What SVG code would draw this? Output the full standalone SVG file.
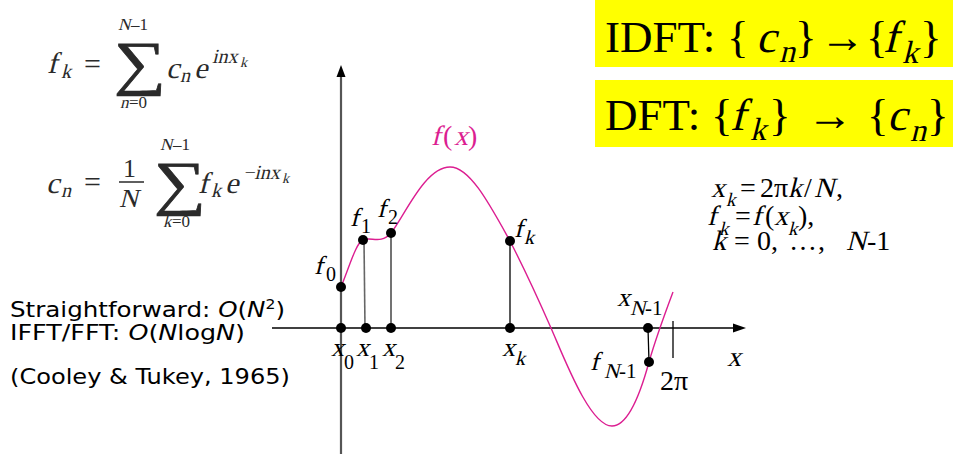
<svg xmlns="http://www.w3.org/2000/svg" width="953" height="454" viewBox="0 0 953 454">
<style>
.m{font-family:"Liberation Serif","Times New Roman",serif;}
.eq{fill:#2a2a2a}
.lab{font-size:26px;fill:#000}
.sub{font-size:20px}
.v{font-family:"DejaVu Sans",Verdana,sans-serif;font-size:22px;fill:#000}
.dot{fill:#000}
.big{font-size:45px;fill:#000}
.bsub{font-size:32px}
.rt{font-size:28px;fill:#000}
.rs{font-size:19px}
.curve{fill:none;stroke:#DC1E91;stroke-width:1.4}
</style>
<rect width="953" height="454" fill="#fff"/>

<g id="formula1" class="m eq">
  <text transform="translate(47,73) skewX(-14)" font-size="30">f</text>
  <text transform="translate(61,78) skewX(-14)" font-size="20">k</text>
  <text x="84" y="74" font-size="30">=</text>
  <text transform="translate(114,83) scale(1.22,1)" font-size="60" stroke="#2a2a2a" stroke-width="0.7">∑</text>
  <text transform="translate(118,30) skewX(-14)" font-size="17">N</text>
  <text x="131" y="30" font-size="17">–1</text>
  <text transform="translate(120,108) skewX(-14)" font-size="17">n</text>
  <text x="129" y="108" font-size="17">=0</text>
  <text transform="translate(166,78) skewX(-14)" font-size="30">c</text>
  <text transform="translate(180,82) skewX(-14)" font-size="20">n</text>
  <text transform="translate(194,78) skewX(-14)" font-size="30">e</text>
  <text transform="translate(212,63) skewX(-14)" font-size="20">inx</text>
  <text transform="translate(240,67) skewX(-14)" font-size="14">k</text>
</g>

<g id="formula2" class="m eq">
  <text transform="translate(46,193) skewX(-14)" font-size="30">c</text>
  <text transform="translate(61,197) skewX(-14)" font-size="20">n</text>
  <text x="84" y="192" font-size="30">=</text>
  <text x="123" y="177" font-size="26">1</text>
  <line x1="119" y1="182" x2="144" y2="182" stroke="#2a2a2a" stroke-width="1.5"/>
  <text transform="translate(119,207) skewX(-14)" font-size="26">N</text>
  <text transform="translate(154,203) scale(1.22,1)" font-size="60" stroke="#2a2a2a" stroke-width="0.7">∑</text>
  <text transform="translate(160,150) skewX(-14)" font-size="17">N</text>
  <text x="173" y="150" font-size="17">–1</text>
  <text transform="translate(163,227) skewX(-14)" font-size="17">k</text>
  <text x="172" y="227" font-size="17">=0</text>
  <text transform="translate(198,193) skewX(-14)" font-size="30">f</text>
  <text transform="translate(211,197) skewX(-14)" font-size="20">k</text>
  <text transform="translate(225,193) skewX(-14)" font-size="30">e</text>
  <text transform="translate(243,179) skewX(-14)" font-size="20">−inx</text>
  <text transform="translate(282,183) skewX(-14)" font-size="14">k</text>
</g>

<g id="idft" class="m big">
  <rect x="595" y="0" width="358" height="67" fill="#FFFF00"/>
  <text x="605" y="52">IDFT:</text>
  <text x="727" y="52">{</text>
  <text transform="translate(756,52) skewX(-14)">c</text>
  <text transform="translate(779,62) skewX(-14)" class="bsub">n</text>
  <text x="795" y="52">}</text>
  <text x="820" y="52" textLength="45" lengthAdjust="spacingAndGlyphs">→</text>
  <text x="866" y="52">{</text>
  <text transform="translate(883,52) skewX(-14)">f</text>
  <text transform="translate(902,63) skewX(-14)" class="bsub">k</text>
  <text x="920" y="52">}</text>
</g>

<g id="dft" class="m big">
  <rect x="595" y="80" width="358" height="67" fill="#FFFF00"/>
  <text x="605" y="130">DFT:</text>
  <text x="711" y="130">{</text>
  <text transform="translate(730,130) skewX(-14)">f</text>
  <text transform="translate(750,140) skewX(-14)" class="bsub">k</text>
  <text x="769" y="130">}</text>
  <text x="807" y="130" textLength="46" lengthAdjust="spacingAndGlyphs">→</text>
  <text x="867" y="130">{</text>
  <text transform="translate(887,130) skewX(-14)">c</text>
  <text transform="translate(910,141) skewX(-14)" class="bsub">n</text>
  <text x="927" y="130">}</text>
</g>

<g id="definitions" class="m rt">
  <text transform="translate(711,197) skewX(-14)">x</text>
  <text transform="translate(726,206) skewX(-14)" class="rs">k</text>
  <text x="740" y="197">=</text>
  <text x="760" y="197">2π</text>
  <text transform="translate(788,197) skewX(-14)">k</text>
  <text x="804" y="197">/</text>
  <text transform="translate(814,197) skewX(-14)">N</text>
  <text x="836" y="197">,</text>

  <text transform="translate(707,225) skewX(-14)">f</text>
  <text transform="translate(719,235) skewX(-14)" class="rs">k</text>
  <text x="735" y="225">=</text>
  <text transform="translate(752,225) skewX(-14)">f</text>
  <text x="765" y="225">(</text>
  <text transform="translate(774,225) skewX(-14)">x</text>
  <text transform="translate(788,235) skewX(-14)" class="rs">k</text>
  <text x="798" y="225">),</text>

  <text transform="translate(712,250) skewX(-14)">k</text>
  <text x="734" y="250">=</text>
  <text x="757" y="250">0,</text>
  <text x="789" y="250">…</text>
  <text x="818" y="250">,</text>
  <text transform="translate(846,250) skewX(-14)">N</text>
  <text x="867" y="250">-1</text>
</g>

<g id="complexity" class="v">
  <text x="10" y="317" textLength="275" lengthAdjust="spacingAndGlyphs">Straightforward: <tspan font-style="italic">O</tspan>(<tspan font-style="italic">N</tspan><tspan font-size="14" dy="-8">2</tspan><tspan dy="8">)</tspan></text>
  <text x="10" y="340" textLength="235" lengthAdjust="spacingAndGlyphs">IFFT/FFT: <tspan font-style="italic">O</tspan>(<tspan font-style="italic">N</tspan>log<tspan font-style="italic">N</tspan>)</text>
  <text x="10" y="384" textLength="280" lengthAdjust="spacingAndGlyphs">(Cooley &amp; Tukey, 1965)</text>
</g>

<g id="axes">
  <line x1="341" y1="454" x2="341" y2="74" stroke="#555" stroke-width="2.2"/>
  <polygon points="341,65 336.5,77 345.5,77" fill="#000"/>
  <line x1="272" y1="328" x2="736" y2="328" stroke="#000" stroke-width="1.6"/>
  <polygon points="746,328 733,323.5 733,332.5" fill="#000"/>
  <line x1="673" y1="321" x2="673" y2="358" stroke="#000" stroke-width="1.3"/>
</g>

<g id="connectors">
  <line x1="364" y1="240" x2="365" y2="328" stroke="#666" stroke-width="1.6"/>
  <line x1="391" y1="233" x2="391" y2="328" stroke="#444" stroke-width="1.5"/>
  <line x1="510" y1="241" x2="510" y2="328" stroke="#000" stroke-width="1.3"/>
  <line x1="648" y1="328" x2="649" y2="362" stroke="#000" stroke-width="1.3"/>
</g>

<g id="curve">
  <path class="curve" d="M341,287 C350,265 356,243 363,240 C371,236 380,245 391,233 C405,215 425,167 450,167 C470,167 490,205 510,241 C525,270 540,303 551,328 C565,360 590,426 612,426 C628,426 640,395 649,362 C653,348 664,316 673,292"/>
  <g class="m" font-size="28" fill="#DC1E91">
    <text transform="translate(431,145) skewX(-14)">f</text>
    <text x="443" y="145">(</text>
    <text transform="translate(454,145) skewX(-14)">x</text>
    <text x="468" y="145">)</text>
  </g>
</g>

<g id="points">
  <circle class="dot" cx="341" cy="287" r="5"/>
  <circle class="dot" cx="363" cy="240" r="5"/>
  <circle class="dot" cx="391" cy="233" r="5"/>
  <circle class="dot" cx="510" cy="241" r="5"/>
  <circle class="dot" cx="649" cy="362" r="5"/>
  <circle class="dot" cx="341" cy="328" r="5"/>
  <circle class="dot" cx="366" cy="328" r="5"/>
  <circle class="dot" cx="391" cy="328" r="5"/>
  <circle class="dot" cx="510" cy="328" r="5"/>
  <circle class="dot" cx="648" cy="328" r="5"/>
</g>

<g id="labels" class="m lab">
  <text transform="translate(314,274) skewX(-14)">f</text><text class="sub" x="326" y="281">0</text>
  <text transform="translate(350,226) skewX(-14)">f</text><text class="sub" x="361" y="233">1</text>
  <text transform="translate(377,217) skewX(-14)">f</text><text class="sub" x="388" y="224">2</text>
  <text transform="translate(514,237) skewX(-14)">f</text><text class="sub" transform="translate(524,244) skewX(-14)">k</text>
  <text transform="translate(331,356) skewX(-14)">x</text><text class="sub" x="344" y="369">0</text>
  <text transform="translate(356,356) skewX(-14)">x</text><text class="sub" x="369" y="369">1</text>
  <text transform="translate(382,356) skewX(-14)">x</text><text class="sub" x="395" y="369">2</text>
  <text transform="translate(502,356) skewX(-14)">x</text><text class="sub" transform="translate(515,365) skewX(-14)">k</text>
  <text transform="translate(617,306) skewX(-14)">x</text><text transform="translate(630,315) skewX(-14)" font-size="21">N</text><text x="645" y="315" font-size="21">-1</text>
  <text transform="translate(590,370) skewX(-14)">f</text><text transform="translate(604,378) skewX(-14)" font-size="21">N</text><text x="619" y="378" font-size="21">-1</text>
  <text x="660" y="390" font-size="28">2π</text>
  <text transform="translate(727,366) skewX(-14)" font-size="28">x</text>
</g>
</svg>
